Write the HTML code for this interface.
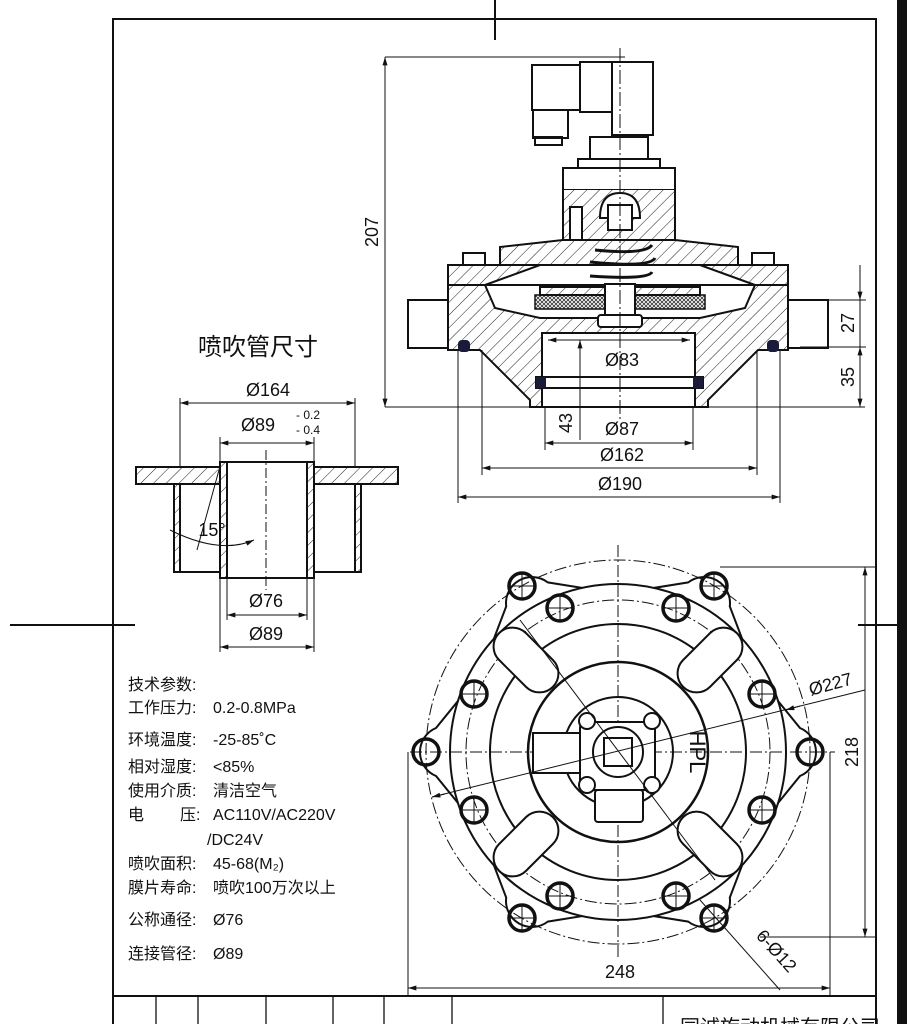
<!DOCTYPE html>
<html><head><meta charset="utf-8"><style>
body{margin:0;background:#fff;}
svg{display:block;}
text{font-family:"Liberation Sans","Noto Sans CJK SC",sans-serif;fill:#111;}
</style></head><body>
<svg width="907" height="1024" viewBox="0 0 907 1024" xmlns="http://www.w3.org/2000/svg">
<defs>
<pattern id="h" width="9" height="9" patternUnits="userSpaceOnUse" patternTransform="rotate(45)">
<rect width="9" height="9" fill="#fff"/><line x1="0" y1="0" x2="0" y2="9" stroke="#222" stroke-width="1"/></pattern>
<pattern id="m" width="4" height="4" patternUnits="userSpaceOnUse">
<rect width="4" height="4" fill="#fff"/><path d="M0 0L4 4M4 0L0 4" stroke="#333" stroke-width="0.8"/></pattern>
<marker id="a" viewBox="0 0 10 6" refX="10" refY="3" markerWidth="12" markerHeight="5" orient="auto-start-reverse" markerUnits="userSpaceOnUse"><path d="M0 0L10 3L0 6z" fill="#111"/></marker>
</defs>
<rect width="907" height="1024" fill="#fff"/>
<g stroke="#111" fill="none">
<rect x="897" y="0" width="10" height="1024" fill="#111" stroke="none"/>
<polyline points="113,1024 113,19 876,19 876,1024" stroke-width="2"/>
<line x1="495" y1="0" x2="495" y2="40" stroke-width="2"/>
<line x1="10" y1="625" x2="135" y2="625" stroke-width="2"/>
<line x1="858" y1="625" x2="897" y2="625" stroke-width="2"/>
<line x1="113" y1="996" x2="876" y2="996" stroke-width="2"/>
<g stroke-width="1.3"><line x1="156" y1="996" x2="156" y2="1024"/><line x1="198" y1="996" x2="198" y2="1024"/><line x1="266" y1="996" x2="266" y2="1024"/><line x1="333" y1="996" x2="333" y2="1024"/><line x1="384" y1="996" x2="384" y2="1024"/><line x1="452" y1="996" x2="452" y2="1024"/><line x1="663" y1="996" x2="663" y2="1024"/></g>
</g>
<text x="680" y="1034" font-size="20">同诚旋动机械有限公司</text>

<!-- section view -->
<g stroke="#111" stroke-width="2" fill="none">
<rect x="532" y="65" width="48" height="45" fill="#fff"/>
<rect x="580" y="62" width="32" height="50" fill="#fff"/>
<rect x="612" y="62" width="41" height="73" fill="#fff"/>
<rect x="533" y="110" width="35" height="28" fill="#fff"/>
<rect x="535" y="137" width="27" height="8"/>
<rect x="590" y="137" width="58" height="22" fill="#fff"/>
<rect x="578" y="159" width="82" height="10"/>
<rect x="563" y="168" width="112" height="22" fill="#fff"/>
<path d="M563 190 L563 240 L675 240 L675 190" fill="url(#h)"/>
<path d="M600 218 Q600 193 620 193 Q640 193 640 218 L632 218 L632 228 L608 228 L608 218Z" fill="#fff"/>
<rect x="608" y="205" width="24" height="25" fill="#fff"/>
<rect x="570" y="207" width="12" height="35" fill="#fff"/>
<path d="M500 265 L500 247 L563 240 L675 240 L738 247 L738 265Z" fill="url(#h)"/>
<rect x="463" y="253" width="22" height="13" fill="#fff"/>
<rect x="752" y="253" width="22" height="13" fill="#fff"/>
<rect x="448" y="265" width="340" height="20" fill="url(#h)"/>
<path d="M485 285 L540 265 L700 265 L755 285Z" fill="#fff"/>
<path d="M448 285 L448 350 L480 350 L530 400 L530 407 L708 407 L708 400 L758 350 L788 350 L788 285Z" fill="url(#h)"/>
<rect x="408" y="300" width="40" height="48" fill="#fff"/>
<rect x="788" y="300" width="40" height="48" fill="#fff"/>
<path d="M485 285 L755 285 L745 308 L700 318 L540 318 L495 308Z" fill="#fff"/>
<rect x="542" y="333" width="153" height="74" fill="#fff"/>
<rect x="535" y="295" width="70" height="14" fill="url(#m)" stroke-width="1.5"/>
<rect x="635" y="295" width="70" height="14" fill="url(#m)" stroke-width="1.5"/>
<rect x="540" y="287" width="160" height="8" fill="url(#h)"/>
<rect x="605" y="284" width="30" height="34" fill="#fff"/>
<rect x="598" y="315" width="44" height="12" rx="3" fill="#fff"/>
<path d="M595 250 Q645 255 652 245 M590 262 Q650 268 655 258 M590 276 Q648 280 652 272" stroke-width="3"/>
<rect x="536" y="377" width="167" height="11" fill="#fff"/>
</g>
<g fill="#1a1a3a">
<rect x="536" y="377" width="10" height="11"/><rect x="693" y="377" width="10" height="11"/>
<rect x="458" y="340" width="12" height="12" rx="4"/><rect x="767" y="340" width="12" height="12" rx="4"/>
</g>
<line x1="620" y1="48" x2="620" y2="420" stroke="#111" stroke-width="1" stroke-dasharray="14 3 2 3"/>
<g stroke="#111" stroke-width="1" fill="none">
<line x1="385" y1="57" x2="625" y2="57"/><line x1="385" y1="407" x2="865" y2="407"/>
<line x1="385" y1="57" x2="385" y2="407" marker-start="url(#a)" marker-end="url(#a)"/>
<line x1="800" y1="300" x2="866" y2="300"/><line x1="800" y1="347" x2="866" y2="347"/>
<line x1="860" y1="265" x2="860" y2="300" marker-end="url(#a)"/>
<line x1="860" y1="300" x2="860" y2="347"/>
<line x1="860" y1="347" x2="860" y2="407" marker-start="url(#a)" marker-end="url(#a)"/>
<line x1="548" y1="340" x2="690" y2="340" marker-start="url(#a)" marker-end="url(#a)"/>
<line x1="580" y1="340" x2="580" y2="440" marker-start="url(#a)"/>
<line x1="545" y1="407" x2="545" y2="450"/><line x1="693" y1="407" x2="693" y2="450"/>
<line x1="545" y1="443" x2="693" y2="443" marker-start="url(#a)" marker-end="url(#a)"/>
<line x1="482" y1="350" x2="482" y2="475"/><line x1="757" y1="350" x2="757" y2="475"/>
<line x1="482" y1="468" x2="757" y2="468" marker-start="url(#a)" marker-end="url(#a)"/>
<line x1="458" y1="350" x2="458" y2="503"/><line x1="780" y1="350" x2="780" y2="503"/>
<line x1="458" y1="497" x2="780" y2="497" marker-start="url(#a)" marker-end="url(#a)"/>
</g>
<g font-size="18" text-anchor="middle">
<text x="378" y="232" transform="rotate(-90 378 232)">207</text>
<text x="854" y="323" transform="rotate(-90 854 323)">27</text>
<text x="854" y="377" transform="rotate(-90 854 377)">35</text>
<text x="572" y="423" transform="rotate(-90 572 423)">43</text>
<text x="622" y="366">Ø83</text>
<text x="622" y="435">Ø87</text>
<text x="622" y="461">Ø162</text>
<text x="620" y="490">Ø190</text>
</g>

<!-- nozzle -->
<text x="198" y="355" font-size="24">喷吹管尺寸</text>
<g stroke="#111" stroke-width="2" fill="none">
<path d="M136 467 L220 467 L220 484 L136 484Z" fill="url(#h)"/>
<path d="M314 467 L398 467 L398 484 L314 484Z" fill="url(#h)"/>
<rect x="174" y="484" width="6" height="88" fill="url(#h)"/>
<rect x="355" y="484" width="6" height="88" fill="url(#h)"/>
<line x1="174" y1="572" x2="220" y2="572"/><line x1="314" y1="572" x2="361" y2="572"/>
<rect x="220" y="462" width="7" height="116" fill="url(#h)"/>
<rect x="307" y="462" width="7" height="116" fill="url(#h)"/>
<line x1="220" y1="462" x2="314" y2="462"/><line x1="220" y1="578" x2="314" y2="578"/>
</g>
<line x1="266" y1="450" x2="266" y2="590" stroke="#111" stroke-width="1" stroke-dasharray="10 3 2 3"/>
<g stroke="#111" stroke-width="1" fill="none">
<line x1="180" y1="398" x2="180" y2="467"/><line x1="355" y1="398" x2="355" y2="467"/>
<line x1="180" y1="403" x2="355" y2="403" marker-start="url(#a)" marker-end="url(#a)"/>
<line x1="220" y1="437" x2="220" y2="462"/><line x1="314" y1="437" x2="314" y2="462"/>
<line x1="220" y1="443" x2="314" y2="443" marker-start="url(#a)" marker-end="url(#a)"/>
<line x1="227" y1="578" x2="227" y2="620"/><line x1="307" y1="578" x2="307" y2="620"/>
<line x1="227" y1="615" x2="307" y2="615" marker-start="url(#a)" marker-end="url(#a)"/>
<line x1="220" y1="578" x2="220" y2="652"/><line x1="314" y1="578" x2="314" y2="652"/>
<line x1="220" y1="647" x2="314" y2="647" marker-start="url(#a)" marker-end="url(#a)"/>
<line x1="219" y1="470" x2="197" y2="550"/>
<path d="M170 530 Q220 555 254 540" marker-end="url(#a)"/>
</g>
<g font-size="18" text-anchor="middle">
<text x="268" y="396">Ø164</text>
<text x="258" y="431">Ø89</text>
<text x="296" y="419" font-size="12" text-anchor="start">- 0.2</text>
<text x="296" y="434" font-size="12" text-anchor="start">- 0.4</text>
<text x="212" y="536">15°</text>
<text x="266" y="607">Ø76</text>
<text x="266" y="640">Ø89</text>
</g>

<!-- specs -->
<g font-size="16">
<text x="128" y="690">技术参数:</text>
<text x="128" y="713">工作压力:</text><text x="213" y="713">0.2-0.8MPa</text>
<text x="128" y="745">环境温度:</text><text x="213" y="745">-25-85˚C</text>
<text x="128" y="772">相对湿度:</text><text x="213" y="772">&lt;85%</text>
<text x="128" y="796">使用介质:</text><text x="213" y="796">清洁空气</text>
<text x="128" y="820">电</text><text x="180" y="820">压:</text><text x="213" y="820">AC110V/AC220V</text>
<text x="207" y="845">/DC24V</text>
<text x="128" y="869">喷吹面积:</text><text x="213" y="869">45-68(M₂)</text>
<text x="128" y="893">膜片寿命:</text><text x="213" y="893">喷吹100万次以上</text>
<text x="128" y="925">公称通径:</text><text x="213" y="925">Ø76</text>
<text x="128" y="959">连接管径:</text><text x="213" y="959">Ø89</text>
</g>

<!-- bottom view -->
<g stroke="#111" stroke-width="2" fill="#fff">
<g id="lug"><path d="M765 685 L800 728 A26 26 0 0 1 800 776 L765 819Z"/></g>
<use href="#lug" transform="rotate(-60 618 752)"/>
<use href="#lug" transform="rotate(-120 618 752)"/>
<use href="#lug" transform="rotate(180 618 752)"/>
<use href="#lug" transform="rotate(60 618 752)"/>
<use href="#lug" transform="rotate(120 618 752)"/>
<circle cx="618" cy="752" r="168"/>
</g>
<g stroke="#111" stroke-width="1" fill="none" stroke-dasharray="12 3 2 3">
<circle cx="618" cy="752" r="192"/>
<circle cx="618" cy="752" r="152"/>
<line x1="618" y1="545" x2="618" y2="960"/>
<line x1="410" y1="752" x2="835" y2="752"/>
</g>
<g stroke="#111" stroke-width="2" fill="none">
<circle cx="618" cy="752" r="128"/>
<circle cx="618" cy="752" r="90" stroke-width="2.5"/>
<circle cx="618" cy="752" r="55"/>
</g>
<g stroke="#111" stroke-width="2" fill="#fff">
<rect x="672" y="641" width="76" height="38" rx="19" transform="rotate(-45 710 660)"/>
<rect x="488" y="641" width="76" height="38" rx="19" transform="rotate(45 526 660)"/>
<rect x="488" y="825" width="76" height="38" rx="19" transform="rotate(-45 526 844)"/>
<rect x="672" y="825" width="76" height="38" rx="19" transform="rotate(45 710 844)"/>
</g>
<g stroke="#111" fill="none">
<g stroke-width="3.5">
<circle cx="810" cy="752" r="13"/><circle cx="426" cy="752" r="13"/>
<circle cx="714" cy="586" r="13"/><circle cx="522" cy="586" r="13"/>
<circle cx="522" cy="918" r="13"/><circle cx="714" cy="918" r="13"/>
<circle cx="762" cy="694" r="13"/><circle cx="762" cy="810" r="13"/>
<circle cx="474" cy="694" r="13"/><circle cx="474" cy="810" r="13"/>
<circle cx="676" cy="608" r="13"/><circle cx="560" cy="608" r="13"/>
<circle cx="560" cy="896" r="13"/><circle cx="676" cy="896" r="13"/>
</g>
<path stroke-width="1" d="M700 586h28M714 572v28M508 586h28M522 572v28M508 918h28M522 904v28M700 918h28M714 904v28M748 694h28M762 680v28M748 810h28M762 796v28M460 694h28M474 680v28M460 810h28M474 796v28M662 608h28M676 594v28M546 608h28M560 594v28M546 896h28M560 882v28M662 896h28M676 882v28"/>
</g>
<g stroke="#111" stroke-width="2" fill="#fff">
<rect x="533" y="733" width="50" height="40"/>
<rect x="580" y="722" width="75" height="68" rx="6"/>
<rect x="595" y="790" width="48" height="32" rx="3"/>
<circle cx="618" cy="752" r="25"/>
<rect x="604" y="738" width="28" height="28"/>
<circle cx="587" cy="721" r="8"/><circle cx="652" cy="721" r="8"/>
<circle cx="587" cy="785" r="8"/><circle cx="652" cy="785" r="8"/>
</g>
<text x="690" y="752" font-size="22" text-anchor="middle" transform="rotate(90 690 752)" fill="#111">HPL</text>
<g stroke="#111" stroke-width="1" fill="none">
<line x1="408" y1="752" x2="408" y2="995"/><line x1="830" y1="752" x2="830" y2="995"/>
<line x1="408" y1="988" x2="830" y2="988" marker-start="url(#a)" marker-end="url(#a)"/>
<line x1="720" y1="567" x2="875" y2="567"/><line x1="760" y1="937" x2="875" y2="937"/>
<line x1="865" y1="567" x2="865" y2="937" marker-start="url(#a)" marker-end="url(#a)"/>
<line x1="432" y1="797" x2="865" y2="690"/>
<line x1="432" y1="797" x2="445" y2="794" marker-start="url(#a)"/>
<line x1="786" y1="710" x2="800" y2="706" marker-start="url(#a)"/>
<line x1="520" y1="620" x2="715" y2="880"/>
<line x1="700" y1="900" x2="780" y2="990"/>
</g>
<g font-size="18" text-anchor="middle">
<text x="620" y="978">248</text>
<text x="858" y="752" transform="rotate(-90 858 752)">218</text>
<text x="832" y="690" transform="rotate(-15 832 690)">Ø227</text>
<text x="772" y="955" transform="rotate(48 772 955)">6-Ø12</text>
</g>
</svg>
</body></html>
